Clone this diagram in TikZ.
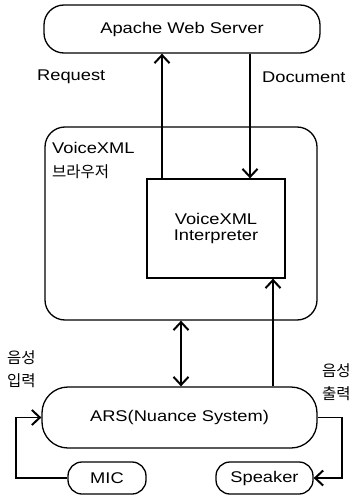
\documentclass[tikz,border=0pt]{standalone}
\usepackage{fontspec}
\setmainfont{Liberation Sans}[FakeStretch=1.18]
\newfontfamily\kor{Noto Sans CJK KR}
\usetikzlibrary{arrows.meta}
\begin{document}
\begin{tikzpicture}[x=1pt,y=-1pt,
  box/.style={draw,line width=1.3pt,rounded corners=#1,inner sep=0pt},
  box/.default=20pt,
  lbl/.style={font=\fontsize{15.5}{18}\selectfont},
  klbl/.style={font=\kor\fontsize{15.5}{23}\selectfont,align=left,inner sep=0pt},
  tip/.style={},
  arr/.style={line width=1.8pt,-{Straight Barb[length=8pt,width=15pt,line width=2pt]}},
  dbl/.style={line width=1.8pt,{Straight Barb[length=8pt,width=15pt,line width=2pt]}-{Straight Barb[length=8pt,width=15pt,line width=2pt]}},
  ln/.style={line width=1.8pt}]
\path[use as bounding box,fill=white] (0,0) rectangle (354,495);

\node[box=20pt,minimum width=276pt,minimum height=48pt,lbl] (apache) at (182,29) {Apache Web Server};
\node[box=20pt,minimum width=272pt,minimum height=193pt] (browser) at (181,223.5) {};
\node[box=0pt,minimum width=138pt,minimum height=99pt,lbl,align=center] (interp) at (216,228.5) {VoiceXML\\[-2pt]Interpreter};
\node[box=26pt,minimum width=275pt,minimum height=61pt,lbl] (ars) at (179.5,417.5) {ARS(Nuance System)};
\node[box=14pt,minimum width=78pt,minimum height=32pt,lbl] (mic) at (107,478) {MIC};
\node[box=14pt,minimum width=97pt,minimum height=32pt,lbl] (spk) at (264.5,478) {Speaker};

\node[lbl,anchor=west,inner sep=0pt] (req) at (37,77) {Request};
\node[lbl,anchor=west,inner sep=0pt] (doc) at (262,77) {Document};
\node[lbl,anchor=west,inner sep=0pt] (bxml) at (52,148) {VoiceXML};
\node[klbl,anchor=west] (bkor) at (52,172) {브라우저};
\node[klbl,anchor=west] (inlbl) at (7,369) {음성\\입력};
\node[klbl,anchor=west] (outlbl) at (322,382) {음성\\출력};

\coordinate (rq) at (162,0);
\coordinate (dc) at (250,0);
\coordinate (bi) at (181,0);
\coordinate (up) at (273,0);
\coordinate (lx) at (16,0);
\coordinate (rx) at (342,0);

\draw[arr] (rq |- interp.north) -- (rq |- apache.south);
\draw[arr] (dc |- apache.south) -- (dc |- interp.north);
\draw[dbl] (bi |- browser.south) -- (bi |- ars.north);
\draw[arr] (up |- ars.north) -- (up |- interp.south);
\draw[arr] (mic.west) -- (mic.west -| lx) -- (ars.west -| lx) -- (ars.west);
\draw[arr] (ars.east) -- (ars.east -| rx) -- (spk.east -| rx) -- (spk.east);
\end{tikzpicture}
\end{document}
